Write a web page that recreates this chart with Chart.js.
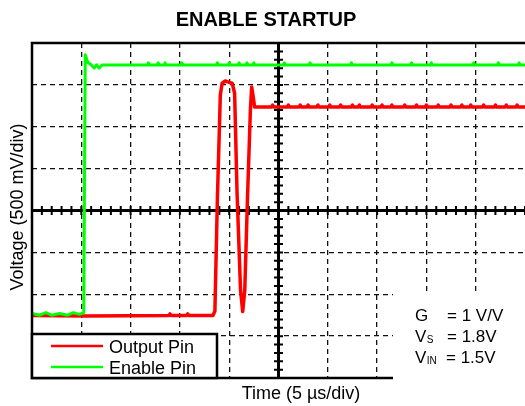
<!DOCTYPE html>
<html>
<head>
<meta charset="utf-8">
<script src="https://cdn.jsdelivr.net/npm/chart.js@4/dist/chart.umd.min.js"></script>
<style>
body{margin:0;background:#fff;}
</style>
</head>
<body>
<canvas id="chart" width="525" height="406"></canvas>
<script>
// time in µs (5 µs/div), voltage in V (500 mV/div)
const timeRange = [-25, 25];
const voltRange = [-2, 2];

const enablePin = [
    [-25,-1.23],[-24.2,-1.25],[-23.6,-1.22],[-23,-1.25],[-22.2,-1.23],[-21.4,-1.25],
    [-20.8,-1.22],[-20.2,-1.24],[-19.75,-1.22],[-19.6,1.86],[-19.35,1.77],[-19,1.74],
    [-18.7,1.70],[-18.45,1.74],[-18.2,1.70],[-17.9,1.737],
    [-13.3,1.737],[-13.2,1.762],[-13.1,1.737],
    [-12.3,1.737],[-12.2,1.762],[-12.1,1.737],
    [-11.6,1.737],[-11.5,1.762],[-11.4,1.737],
    [-9.9,1.737],[-9.8,1.762],[-9.7,1.737],
    [-6.3,1.737],[-6.2,1.762],[-6.1,1.737],
    [-5.1,1.737],[-5.0,1.762],[-4.9,1.737],
    [-4.1,1.737],[-4.0,1.762],[-3.9,1.737],
    [-3.3,1.737],[-3.2,1.762],[-3.1,1.737],
    [-2.6,1.737],[-2.5,1.762],[-2.4,1.737],
    [0.5,1.737],[0.6,1.762],[0.7,1.737],
    [3.1,1.737],[3.2,1.762],[3.3,1.737],
    [7.3,1.737],[7.4,1.762],[7.5,1.737],
    [11.4,1.737],[11.5,1.762],[11.6,1.737],
    [13.4,1.737],[13.5,1.762],[13.6,1.737],
    [15.4,1.737],[15.5,1.762],[15.6,1.737],
    [19.7,1.737],[19.8,1.762],[19.9,1.737],
    [22.2,1.737],[22.3,1.762],[22.4,1.737],
    [24.3,1.737],[24.4,1.762],[24.5,1.737],[25,1.737]
];

const outputPin = [
    [-25,-1.254],[-19.5,-1.26],[-11.1,-1.254],[-11.0,-1.235],[-10.9,-1.254],
    [-9.3,-1.254],[-9.2,-1.235],[-9.1,-1.254],
    [-6.65,-1.254],[-6.45,-1.2],[-6.2,0.13],[-5.9,1.38],[-5.72,1.52],[-5.4,1.546],
    [-5.0,1.53],[-4.7,1.52],[-4.45,1.40],[-4.2,0.2],[-3.85,-0.95],[-3.63,-1.206],
    [-3.42,-0.95],[-3.15,0.13],[-2.85,1.2],[-2.72,1.475],[-2.58,1.37],[-2.42,1.236],
    [-0.7,1.236],[-0.6,1.258],[-0.5,1.236],
    [0.9,1.236],[1.0,1.258],[1.1,1.236],
    [2.1,1.236],[2.2,1.258],[2.3,1.236],
    [2.9,1.236],[3.0,1.258],[3.1,1.236],
    [3.9,1.236],[4.0,1.258],[4.1,1.236],
    [5.1,1.236],[5.2,1.258],[5.3,1.236],
    [6.2,1.236],[6.3,1.258],[6.4,1.236],
    [7.4,1.236],[7.5,1.258],[7.6,1.236],
    [8.1,1.236],[8.2,1.258],[8.3,1.236],
    [9.4,1.236],[9.5,1.258],[9.6,1.236],
    [10.4,1.236],[10.5,1.258],[10.6,1.236],
    [11.4,1.236],[11.5,1.258],[11.6,1.236],
    [12.7,1.236],[12.8,1.258],[12.9,1.236],
    [13.9,1.236],[14.0,1.258],[14.1,1.236],
    [14.9,1.236],[15.0,1.258],[15.1,1.236],
    [16.1,1.236],[16.2,1.258],[16.3,1.236],
    [17.4,1.236],[17.5,1.258],[17.6,1.236],
    [18.5,1.236],[18.6,1.258],[18.7,1.236],
    [19.4,1.236],[19.5,1.258],[19.6,1.236],
    [20.7,1.236],[20.8,1.258],[20.9,1.236],
    [21.9,1.236],[22.0,1.258],[22.1,1.236],
    [23.0,1.236],[23.1,1.258],[23.2,1.236],
    [24.1,1.236],[24.2,1.258],[24.3,1.236],[25,1.236]
];

const seriesNames = ["Output Pin", "Enable Pin"];
const seriesColors = ["#ff0000", "#00ff00"];
const noteLines = [
    ["G", "", "= 1 V/V"],
    ["V", "S", "= 1.8V"],
    ["V", "IN", "= 1.5V"]
];

const toXY = arr => arr.map(p => ({x:p[0], y:p[1]}));

const scopeDecor = {
    id:"scopeDecor",

    beforeDatasetsDraw(chart){
        const {ctx, chartArea:a, scales:{x, y}} = chart;
        const cx = x.getPixelForValue(0);
        const cy = y.getPixelForValue(0);

        ctx.save();
        ctx.strokeStyle = "#000";
        ctx.lineWidth = 3;
        ctx.beginPath();
        ctx.moveTo(a.left, cy); ctx.lineTo(a.right, cy);
        ctx.moveTo(cx, a.top); ctx.lineTo(cx, a.bottom);
        ctx.stroke();

        // minor ticks, 5 per division
        ctx.lineWidth = 2;
        ctx.beginPath();
        for(let i = -25; i <= 25; i++){
            const px = x.getPixelForValue(i);
            ctx.moveTo(px, cy - 4.5); ctx.lineTo(px, cy + 4.5);
        }
        for(let i = -20; i <= 20; i++){
            const py = y.getPixelForValue(i / 10);
            ctx.moveTo(cx - 4.5, py); ctx.lineTo(cx + 4.5, py);
        }
        ctx.stroke();
        ctx.restore();
    },

    afterDatasetsDraw(chart){
        const {ctx, chartArea:a} = chart;
        ctx.save();

        // frame
        ctx.strokeStyle = "#000";
        ctx.lineWidth = 2.5;
        ctx.beginPath();
        ctx.moveTo(a.right + 2, a.top);
        ctx.lineTo(a.left, a.top);
        ctx.lineTo(a.left, a.bottom);
        ctx.lineTo(a.right + 2, a.bottom);
        ctx.stroke();

        // legend box
        ctx.fillStyle = "#fff";
        ctx.fillRect(a.left, 334, 185, a.bottom - 334);
        ctx.lineWidth = 2.5;
        ctx.strokeRect(a.left, 334, 185, a.bottom - 334);
        ctx.font = "18px 'Liberation Sans', Arial, sans-serif";
        ctx.textBaseline = "alphabetic";
        seriesNames.forEach((n, i) => {
            const ly = 346 + i * 21;
            ctx.strokeStyle = seriesColors[i];
            ctx.lineWidth = 2.5;
            ctx.beginPath();
            ctx.moveTo(51, ly); ctx.lineTo(103, ly);
            ctx.stroke();
            ctx.fillStyle = "#000";
            ctx.fillText(n, 109, ly + 6.5);
        });

        // conditions box
        ctx.fillStyle = "#fff";
        ctx.fillRect(393, 293, 140, 100);
        ctx.fillStyle = "#000";
        noteLines.forEach((l, i) => {
            const by = 321 + i * 21;
            ctx.font = "17px 'Liberation Sans', Arial, sans-serif";
            ctx.fillText(l[0], 415, by);
            const w = ctx.measureText(l[0]).width;
            ctx.font = "10px 'Liberation Sans', Arial, sans-serif";
            ctx.fillText(l[1], 415 + w + 0.5, by + 1);
            ctx.font = "17px 'Liberation Sans', Arial, sans-serif";
            ctx.fillText(l[2], i == 2 ? 446 : 447, by);
        });

        // titles
        ctx.textAlign = "center";
        ctx.font = "bold 20px 'Liberation Sans', Arial, sans-serif";
        ctx.fillText("ENABLE STARTUP", 266, 26);
        ctx.font = "18px 'Liberation Sans', Arial, sans-serif";
        ctx.fillText("Time (5 µs/div)", 301, 399);
        ctx.translate(23, 207);
        ctx.rotate(-Math.PI / 2);
        ctx.fillText("Voltage (500 mV/div)", 0, 0);

        ctx.restore();
    }
};

const gridColor = lim => c =>
    (c.tick && (c.tick.value === lim[0] || c.tick.value === lim[1])) ? "rgba(0,0,0,0)" : "#111";

new Chart(document.getElementById("chart"), {
    type:"scatter",

    data:{
        datasets:[{
            label:seriesNames[1],
            data:toXY(enablePin),
            borderColor:seriesColors[1],
            borderWidth:3,
            borderJoinStyle:"round",
            showLine:true,
            pointRadius:0
        },{
            label:seriesNames[0],
            data:toXY(outputPin),
            borderColor:seriesColors[0],
            borderWidth:3.5,
            borderJoinStyle:"round",
            showLine:true,
            pointRadius:0
        }]
    },

    options:{
        responsive:false,
        animation:false,
        devicePixelRatio:1,
        layout:{padding:{left:32, top:43, right:0, bottom:28}},

        plugins:{
            legend:{display:false},
            title:{display:false},
            tooltip:{enabled:false}
        },

        scales:{
            x:{
                type:"linear",
                min:timeRange[0], max:timeRange[1],
                ticks:{display:false, stepSize:5},
                grid:{color:gridColor(timeRange), lineWidth:1.3, drawTicks:false},
                border:{display:false, dash:[5,4]}
            },
            y:{
                type:"linear",
                min:voltRange[0], max:voltRange[1],
                ticks:{display:false, stepSize:0.5},
                grid:{color:gridColor(voltRange), lineWidth:1.3, drawTicks:false},
                border:{display:false, dash:[5,4]}
            }
        }
    },

    plugins:[scopeDecor]
});
</script>
</body>
</html>
